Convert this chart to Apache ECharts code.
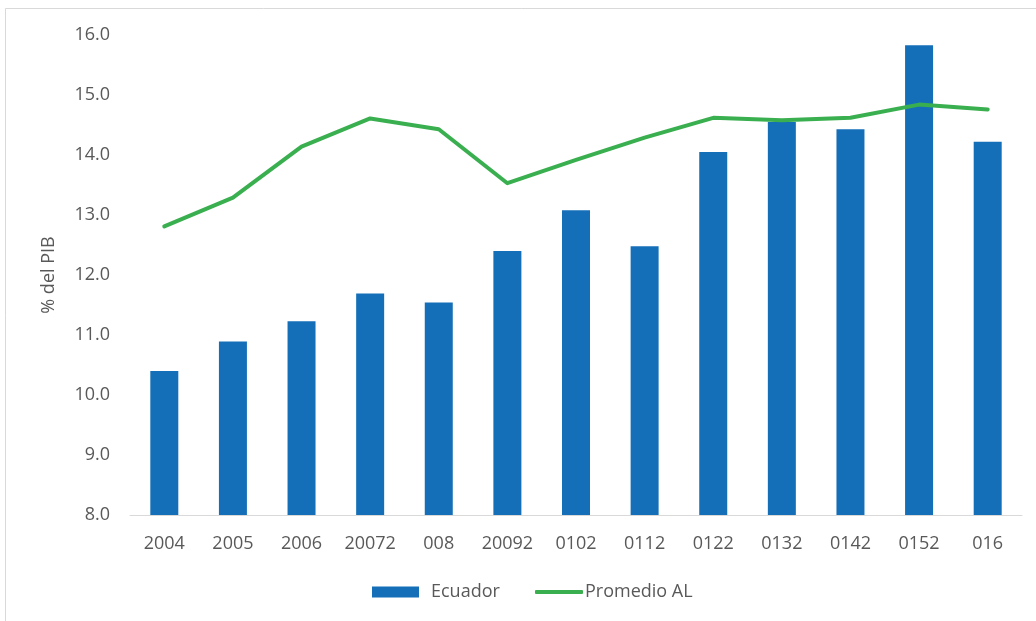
<!DOCTYPE html>
<html>
<head>
<meta charset="utf-8">
<script src="https://cdn.jsdelivr.net/npm/echarts@6/dist/echarts.min.js"></script>
<style>
html,body{margin:0;padding:0;background:#fff;}
#chart{width:1036px;height:621px;}
</style>
</head>
<body>
<div id="chart"></div>
<script>
var categories = ['2004','2005','2006','20072','008','20092','0102','0112','0122','0132','0142','0152','016'];
var ecuador = [10.40, 10.89, 11.23, 11.69, 11.54, 12.40, 13.08, 12.48, 14.05, 14.55, 14.43, 15.83, 14.22];
var promedioAL = [12.81, 13.29, 14.14, 14.61, 14.43, 13.53, 13.92, 14.29, 14.62, 14.58, 14.62, 14.84, 14.76];
var yTicks = { min: 8, max: 16, interval: 1 };

var FONT = "'Open Sans', 'Liberation Sans', sans-serif";
var TXT = '#595959';

var chart = echarts.init(document.getElementById('chart'), null, {renderer: 'canvas'});
chart.setOption({
  animation: false,
  backgroundColor: '#fff',
  graphic: [{
    type: 'rect',
    shape: {x: 5.5, y: 8.5, width: 1200, height: 1000},
    style: {fill: 'none', stroke: '#D9D9D9', lineWidth: 1},
    silent: true,
    z: -10
  }],
  grid: {left: 130, right: 14, top: 35, bottom: 106, containLabel: false},
  legend: [{
    data: ['Ecuador'],
    left: 367, top: 578,
    icon: 'rect',
    itemWidth: 47, itemHeight: 11,
    itemStyle: {borderWidth: 0},
    textStyle: {fontFamily: FONT, fontSize: 18, color: TXT, padding: [0, 0, 0, 7]}
  }, {
    data: ['Promedio AL'],
    left: 530, top: 578,
    icon: 'roundRect',
    itemWidth: 48, itemHeight: 4,
    textStyle: {fontFamily: FONT, fontSize: 18, color: TXT, padding: [0, 0, 0, -3]}
  }],
  xAxis: {
    type: 'category',
    data: categories,
    axisLine: {lineStyle: {color: '#D9D9D9', width: 1}},
    axisTick: {show: false},
    axisLabel: {fontFamily: FONT, fontSize: 18, color: TXT, margin: 20, interval: 0}
  },
  yAxis: {
    type: 'value',
    min: yTicks.min, max: yTicks.max, interval: yTicks.interval,
    name: '% del PIB',
    nameLocation: 'middle',
    nameRotate: 90,
    nameGap: 72,
    nameTextStyle: {fontFamily: FONT, fontSize: 18, color: TXT},
    axisLine: {show: false},
    axisTick: {show: false},
    splitLine: {show: false},
    axisLabel: {fontFamily: FONT, fontSize: 18, color: TXT, margin: 20,
      formatter: function (v) { return v.toFixed(1); }}
  },
  series: [{
    name: 'Ecuador',
    type: 'bar',
    data: ecuador,
    barWidth: 28,
    itemStyle: {color: '#156FB8'},
    z: 2
  }, {
    name: 'Promedio AL',
    type: 'line',
    data: promedioAL,
    symbol: 'none',
    lineStyle: {color: '#3AAF4F', width: 4, cap: 'round', join: 'round'},
    itemStyle: {color: '#3AAF4F'},
    z: 3
  }]
});
</script>
</body>
</html>
